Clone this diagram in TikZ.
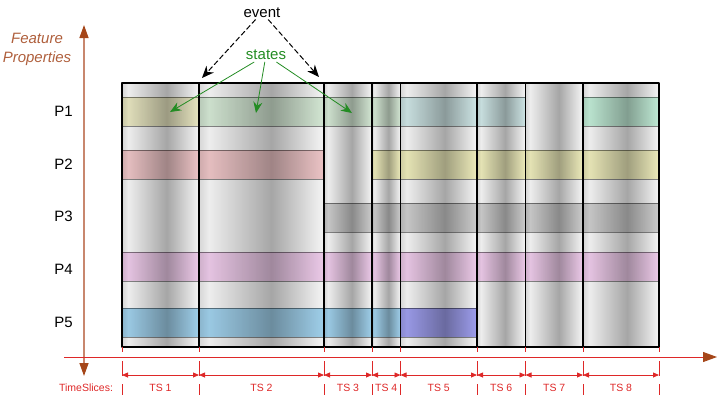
\documentclass[tikz,border=0pt]{standalone}
\usepackage{fontspec}
\setmainfont{Liberation Sans}
\usetikzlibrary{arrows.meta}
\definecolor{cylEdge}{gray}{0.84}
\definecolor{cylLight}{gray}{0.93}
\definecolor{cylDark}{gray}{0.65}
\definecolor{cylRight}{gray}{0.95}
\pgfdeclarehorizontalshading{colshade}{100bp}{color(0bp)=(cylEdge); color(25bp)=(cylEdge); color(29bp)=(cylLight); color(54bp)=(cylDark); color(74bp)=(cylRight); color(100bp)=(cylRight)}
\definecolor{tsred}{RGB}{222,40,40}
\definecolor{axisbrown}{RGB}{165,70,25}
\definecolor{axisline}{RGB}{200,135,110}
\definecolor{featbrown}{RGB}{175,95,60}
\definecolor{stgreen}{RGB}{35,140,35}
\definecolor{bOlive}{RGB}{240,238,200}
\definecolor{bGreen}{RGB}{220,240,220}
\definecolor{bCyan}{RGB}{214,238,238}
\definecolor{bMint}{RGB}{200,244,222}
\definecolor{bRed}{RGB}{246,204,206}
\definecolor{bYellow}{RGB}{246,244,194}
\definecolor{bGray}{RGB}{212,212,212}
\definecolor{bPink}{RGB}{246,210,242}
\definecolor{bBlue}{RGB}{166,216,244}
\definecolor{bViolet}{RGB}{164,164,246}

\begin{document}
\begin{tikzpicture}[x=1pt,y=-1pt,line cap=round,line join=round,
    colbody/.style={shading=colshade},
    colframe/.style={draw=black,line width=1.2pt,line cap=butt},
    band/.style={fill=#1,draw=black!45,line width=0.6pt,blend mode=multiply},
    prop/.style={font=\fontsize{15}{18}\selectfont},
    tslabel/.style={font=\fontsize{10.5}{12}\selectfont,text=tsred},
    tick/.style={draw=tsred,line width=0.7pt,line cap=butt,dash pattern=on 5pt off 9pt on 15pt off 8pt on 11pt off 9pt},
    dimarrow/.style={draw=tsred,line width=0.8pt,{Triangle[length=6pt,width=5pt]}-{Triangle[length=6pt,width=5pt]}},
    evarrow/.style={draw=black,line width=1pt,dash pattern=on 5pt off 3pt,-{Stealth[length=12pt,width=10pt]}},
    starrow/.style={draw=stgreen,line width=0.8pt,-{Stealth[length=11pt,width=9pt]}}]
  \useasboundingbox (0,0) rectangle (718,397);
  % time slice columns
  \shade[colbody] (122,83) rectangle (199,347);
  \shade[colbody] (199,83) rectangle (324,347);
  \shade[colbody] (324,83) rectangle (372,347);
  \shade[colbody] (372,83) rectangle (400.5,347);
  \shade[colbody] (400.5,83) rectangle (477,347);
  \shade[colbody] (477,83) rectangle (525.5,347);
  \shade[colbody] (525.5,83) rectangle (583,347);
  \shade[colbody] (583,83) rectangle (659,347);
  % states of the properties
  \filldraw[band=bOlive] (122,97) rectangle (199,126);
  \filldraw[band=bGreen] (199,97) rectangle (400.5,126);
  \filldraw[band=bCyan] (400.5,97) rectangle (525.5,126);
  \filldraw[band=bMint] (583,97) rectangle (659,126);
  \filldraw[band=bRed] (122,150) rectangle (324,179);
  \filldraw[band=bYellow] (372,150) rectangle (659,179);
  \filldraw[band=bGray] (324,203) rectangle (659,232);
  \filldraw[band=bPink] (122,252) rectangle (659,281);
  \filldraw[band=bBlue] (122,308) rectangle (400.5,337);
  \filldraw[band=bViolet] (400.5,308) rectangle (477,337);
  \draw[colframe] (122,83) rectangle (199,347);
  \draw[colframe] (199,83) rectangle (324,347);
  \draw[colframe] (324,83) rectangle (372,347);
  \draw[colframe] (372,83) rectangle (400.5,347);
  \draw[colframe] (400.5,83) rectangle (477,347);
  \draw[colframe] (477,83) rectangle (525.5,347);
  \draw[colframe] (525.5,83) rectangle (583,347);
  \draw[colframe] (583,83) rectangle (659,347);
  % axes
  \coordinate (vtop) at (84,25);
  \coordinate (vbot) at (84,376);
  \coordinate (hleft) at (64,357);
  \coordinate (hright) at (717,357);
  \draw[draw=axisline,line width=1.3pt,line cap=butt,{Triangle[length=13pt,width=9pt,color=axisbrown]}-{Triangle[length=13pt,width=9pt,color=axisbrown]}] (vtop) -- (vbot);
  \draw[draw=tsred,line width=0.9pt,line cap=butt,-{Triangle[length=14pt,width=10pt,color=axisbrown]}] (hleft) -- (hright);
  \node[font=\fontsize{15}{19}\selectfont\itshape,text=featbrown,align=center] (feat) at (37,49) {Feature\\Properties};
  \node[prop] (p1) at (63.5,111) {P1};
  \node[prop] (p2) at (63.5,164) {P2};
  \node[prop] (p3) at (63.5,216.5) {P3};
  \node[prop] (p4) at (63.5,269) {P4};
  \node[prop] (p5) at (63.5,322) {P5};
  % time slices
  \draw[tick] (122,347) -- (122,397);
  \draw[tick] (199,347) -- (199,397);
  \draw[tick] (324,347) -- (324,397);
  \draw[tick] (372,347) -- (372,397);
  \draw[tick] (400.5,347) -- (400.5,397);
  \draw[tick] (477,347) -- (477,397);
  \draw[tick] (525.5,347) -- (525.5,397);
  \draw[tick] (583,347) -- (583,397);
  \draw[tick] (659,347) -- (659,397);
  \coordinate (b0) at (122,375);
  \coordinate (b1) at (199,375);
  \coordinate (b2) at (324,375);
  \coordinate (b3) at (372,375);
  \coordinate (b4) at (400.5,375);
  \coordinate (b5) at (477,375);
  \coordinate (b6) at (525.5,375);
  \coordinate (b7) at (583,375);
  \coordinate (b8) at (659,375);
  \draw[dimarrow] (b0) -- (b1);
  \draw[dimarrow] (b1) -- (b2);
  \draw[dimarrow] (b2) -- (b3);
  \draw[dimarrow] (b3) -- (b4);
  \draw[dimarrow] (b4) -- (b5);
  \draw[dimarrow] (b5) -- (b6);
  \draw[dimarrow] (b6) -- (b7);
  \draw[dimarrow] (b7) -- (b8);
  \node[tslabel] (slices) at (86,388) {TimeSlices:};
  \node[tslabel] (ts1) at (160.5,388) {TS 1};
  \node[tslabel] (ts2) at (261.5,388) {TS 2};
  \node[tslabel] (ts3) at (348,388) {TS 3};
  \node[tslabel] (ts4) at (386.25,388) {TS 4};
  \node[tslabel] (ts5) at (438.75,388) {TS 5};
  \node[tslabel] (ts6) at (501.25,388) {TS 6};
  \node[tslabel] (ts7) at (554.25,388) {TS 7};
  \node[tslabel] (ts8) at (621,388) {TS 8};
  % event and states
  \node[prop,inner sep=2pt] (event) at (262,12.5) {event};
  \node[prop,text=stgreen,inner sep=2pt] (states) at (266,55) {states};
  \coordinate (evL) at (202,78);
  \coordinate (evR) at (319,77);
  \coordinate (stL) at (170,112);
  \coordinate (stM) at (256,113);
  \coordinate (stR) at (352,113);
  \draw[evarrow] (event) -- (evL);
  \draw[evarrow] (event) -- (evR);
  \draw[starrow] (states) -- (stL);
  \draw[starrow] (states) -- (stM);
  \draw[starrow] (states) -- (stR);
\end{tikzpicture}
\end{document}
